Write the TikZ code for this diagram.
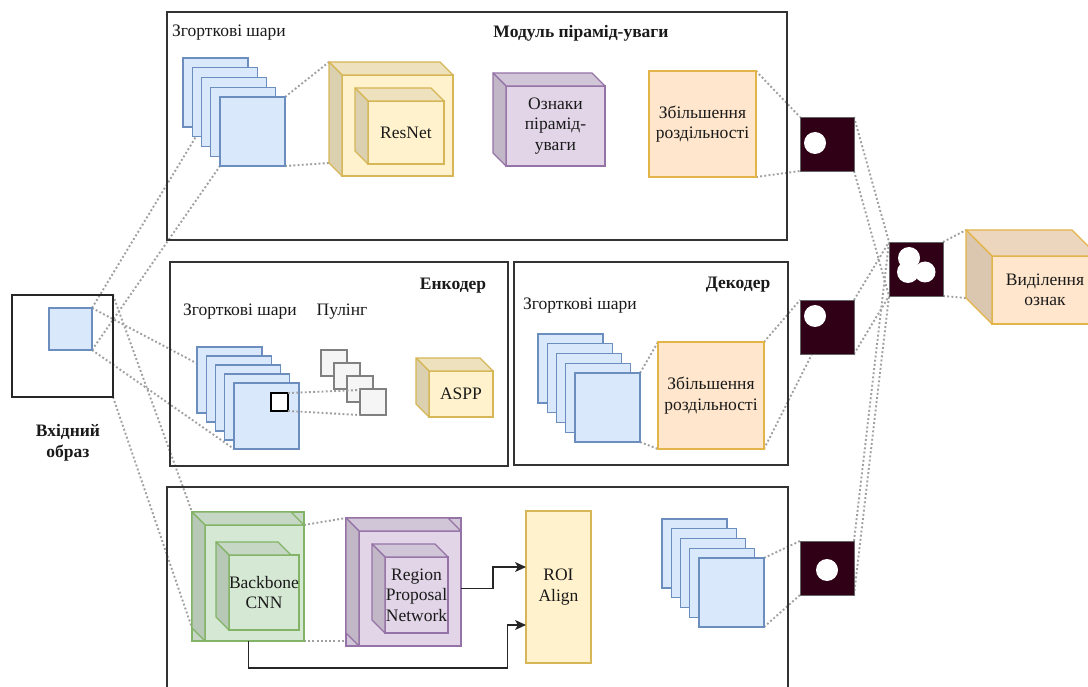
\documentclass[tikz,border=0pt]{standalone}
\usepackage{fontspec}
\setmainfont{Liberation Serif}
\usetikzlibrary{calc,arrows.meta}
\definecolor{bluef}{HTML}{DAE8FC}
\definecolor{blued}{HTML}{6C8EBF}
\definecolor{yelf}{HTML}{FFF2CC}
\definecolor{yeld}{HTML}{D6B656}
\definecolor{oraf}{HTML}{FFE6CC}
\definecolor{orad}{HTML}{E3B448}
\definecolor{purf}{HTML}{E1D5E7}
\definecolor{purd}{HTML}{9673A6}
\definecolor{grnf}{HTML}{D5E8D4}
\definecolor{grnd}{HTML}{82B366}
\definecolor{darkm}{HTML}{300016}
\definecolor{dotc}{HTML}{A0A0A0}
\definecolor{panelc}{HTML}{333333}
\definecolor{txt}{HTML}{1A1A1A}
\definecolor{poolf}{HTML}{F5F5F5}
\newcommand{\fs}{\fontsize{17.5}{20.5}\selectfont}
\pgfdeclarelayer{back}
\pgfdeclarelayer{lines}
\pgfsetlayers{back,lines,main}
\newcommand{\mkcube}[9]{%
  \node[draw=#8, fill=#7, line width=1.3pt, anchor=north west, inner sep=0pt, outer sep=0pt,
        minimum width={#4pt-#2pt-#6pt}, minimum height={#5pt-#3pt-#6pt}, align=center,
        text=txt, font=\fs] (#1) at (#2+#6,#3+#6) {#9};
  \draw[draw=#8, fill=#7!93!black, line width=1.3pt, line join=round]
     (#2,#3) -- (#4-#6,#3) -- (#4,#3+#6) -- (#2+#6,#3+#6) -- cycle;
  \draw[draw=#8, fill=#7!86!black, line width=1.3pt, line join=round]
     (#2,#3) -- (#2+#6,#3+#6) -- (#2+#6,#5) -- (#2,#5-#6) -- cycle;
  \coordinate (#1-btl) at (#2,#3);
  \coordinate (#1-bbl) at (#2,#5-#6);
}
\tikzset{
  sqbox/.style={draw=blued, fill=bluef, line width=1.2pt, anchor=north west,
    inner sep=0pt, outer sep=0pt, minimum width=65pt, minimum height=69pt},
  poolbox/.style={draw=black!50, fill=poolf, line width=1.2pt, anchor=north west,
    inner sep=0pt, outer sep=0pt, minimum width=26pt, minimum height=26pt},
  blk/.style={draw=black!60, fill=darkm, line width=0.8pt, anchor=north west,
    inner sep=0pt, outer sep=0pt, minimum width=54pt, minimum height=54pt},
  dot/.style={circle, fill=white, inner sep=0pt, outer sep=0pt},
  dotl/.style={draw=dotc, line width=1.9pt, dash pattern=on 1.9pt off 2.3pt},
  panelbox/.style={draw=panelc, line width=1.4pt, anchor=north west, inner sep=0pt, outer sep=0pt},
  lbl/.style={text=txt, inner sep=0pt, font=\fs},
  blbl/.style={text=txt, inner sep=0pt, font=\fs\bfseries},
  flatbox/.style={line width=1.3pt, anchor=north west, inner sep=0pt, outer sep=0pt,
    align=center, text=txt, font=\fs},
  arr/.style={-{Stealth[length=11pt,width=10pt,inset=3pt]}, line width=1.4pt, draw=black!85},
}
\begin{document}
\begin{tikzpicture}[x=1pt,y=-1pt]
\begin{pgfonlayer}{back}
\fill[white] (0,0) rectangle (1088,687);
\end{pgfonlayer}
\useasboundingbox (0,0) rectangle (1088,687);

% panels
\node[panelbox, minimum width=620pt, minimum height=228pt] (ptop) at (167,12) {};
\node[panelbox, minimum width=338pt, minimum height=204pt] (penc) at (170,262) {};
\node[panelbox, minimum width=274pt, minimum height=203pt] (pdec) at (514,262) {};
\node[panelbox, minimum width=621pt, minimum height=230pt] (pbot) at (167,487) {};

% input
\node[draw=black!85, line width=1.4pt, anchor=north west, inner sep=0pt, outer sep=0pt,
      minimum width=101pt, minimum height=102pt] (inbox) at (12,295) {};
\node[sqbox, minimum width=43pt, minimum height=42pt] (inblue) at (49,308) {};
\node[blbl, align=center] (tin) at (68,443) {Вхідний\\образ};

% top panel
\node[lbl, anchor=west] (tconv1) at (172,33) {Згорткові шари};
\node[blbl] (ttop) at (581,33) {Модуль пірамід-уваги};
\foreach \i in {1,...,5}
  \node[sqbox] (ts\i) at ({183+9.25*(\i-1)},{58+9.75*(\i-1)}) {};
\mkcube{resnet}{329}{62}{453}{176}{13}{yelf}{yeld}{}
\mkcube{resin}{355}{88}{444}{164}{13}{yelf}{yeld}{ResNet}
\mkcube{pyr}{493}{73}{605}{166}{13}{purf}{purd}{Ознаки\\пірамід-\\уваги}
\node[flatbox, draw=orad, fill=oraf, minimum width=107pt, minimum height=106pt] (topup) at (649,71)
  {Збільшення\\роздільності};

% encoder
\node[blbl] (tenc) at (453,286) {Енкодер};
\node[lbl] (tconv2) at (240,312) {Згорткові шари};
\node[lbl] (tpool) at (342,312) {Пулінг};
\foreach \i in {1,...,5}
  \node[sqbox, minimum height=66pt] (es\i) at ({197+9.25*(\i-1)},{347+9*(\i-1)}) {};
\node[draw=black, fill=white, line width=1.4pt, anchor=north west, inner sep=0pt, outer sep=0pt,
      minimum width=17pt, minimum height=18pt] (esmall) at (271,393) {};
\foreach \i in {1,...,4}
  \node[poolbox] (pq\i) at ({321+13*(\i-1)},{350+13*(\i-1)}) {};
\mkcube{aspp}{416}{358}{493}{417}{13}{yelf}{yeld}{ASPP}

% decoder
\node[blbl] (tdec) at (738,285) {Декодер};
\node[lbl] (tconv3) at (580,306) {Згорткові шари};
\foreach \i in {1,...,5}
  \node[sqbox] (ds\i) at ({538+9.25*(\i-1)},{334+9.75*(\i-1)}) {};
\node[flatbox, draw=orad, fill=oraf, minimum width=106pt, minimum height=107pt] (decup) at (658,342)
  {Збільшення\\роздільності};

% bottom panel
\draw[draw=grnd, fill=grnf!93!black, line width=1.3pt] (192,512) rectangle (304,641);
\mkcube{bb}{192}{512}{304}{641}{13}{grnf}{grnd}{}
\mkcube{bbin}{216}{542}{291}{630}{13}{grnf}{grnd}{Backbone\\CNN}
\draw[draw=purd, fill=purf!93!black, line width=1.3pt] (346,518) rectangle (461,646);
\mkcube{rpn}{346}{518}{461}{646}{13}{purf}{purd}{}
\mkcube{rpnin}{372}{544}{448}{633}{13}{purf}{purd}{Region\\Proposal\\Network}
\node[flatbox, draw=yeld, fill=yelf, minimum width=65pt, minimum height=152pt] (roi) at (526,511)
  {ROI\\Align};
\foreach \i in {1,...,5}
  \node[sqbox] (bs\i) at ({662+9.25*(\i-1)},{519+9.75*(\i-1)}) {};

\draw[arr] (rpn.east) -- ++(32,0) |- ([yshift=20pt]roi.west);
\draw[arr] ([xshift=-6pt]bb.south) -- ++(0,27) -- ++(259,0) |- ([yshift=-38pt]roi.west);

% masks
\node[blk] (sq1) at (800,117) {};
\node[dot, minimum size=22pt] (c1) at (815,143) {};
\node[blk] (sq2) at (800,300) {};
\node[dot, minimum size=22pt] (c2) at (815,316) {};
\node[blk] (sq3) at (800,541) {};
\node[dot, minimum size=22pt] (c3) at (827,570) {};
\node[blk] (comb) at (889,242) {};
\node[dot, minimum size=22pt] (cb1) at (909,258) {};
\node[dot, minimum size=22pt] (cb2) at (908,272) {};
\node[dot, minimum size=21pt] (cb3) at (925,272) {};
\mkcube{sel}{966}{230}{1098}{324}{26}{oraf}{orad}{Виділення\\ознак}

% dotted connectors behind shapes
\begin{pgfonlayer}{lines}
\draw[dotl] (inblue.north east) -- (ts5.north west);
\draw[dotl] (inblue.south east) -- (ts5.south west);
\draw[dotl] (inblue.north east) -- (es5.north west);
\draw[dotl] (inblue.south east) -- (es5.south west);
\draw[dotl] (inbox.north east) -- (bb-btl);
\draw[dotl] (inbox.south east) -- (bb-bbl);
\draw[dotl] (ts5.north east) -- (resnet-btl);
\draw[dotl] (ts5.south east) -- (resnet-bbl);
\draw[dotl] (topup.north east) -- (sq1.north west);
\draw[dotl] (topup.south east) -- (sq1.south west);
\draw[dotl] (sq1.north east) -- (comb.north west);
\draw[dotl] (sq1.south east) -- (comb.south west);
\draw[dotl] (sq2.north east) -- (comb.north west);
\draw[dotl] (sq2.south east) -- (comb.south west);
\draw[dotl] (sq3.north east) -- (comb.north west);
\draw[dotl] (sq3.south east) -- (comb.south west);
\draw[dotl] (comb.north east) -- (sel-btl);
\draw[dotl] (comb.south east) -- (sel-bbl);
\draw[dotl] (ds5.north east) -- (decup.north west);
\draw[dotl] (ds5.south east) -- (decup.south west);
\draw[dotl] (decup.north east) -- (sq2.north west);
\draw[dotl] (decup.south east) -- ([xshift=12pt]sq2.south west);
\draw[dotl] (bs5.north east) -- (sq3.north west);
\draw[dotl] (bs5.south east) -- (sq3.south west);
\draw[dotl] (bb.north east) -- (rpn-btl);
\draw[dotl] (bb.south east) -- (bb.south east -| rpn-btl);
\end{pgfonlayer}
\draw[dotl] (esmall.north east) -- ([yshift=-1pt]pq4.north west);
\draw[dotl] (esmall.south east) -- (pq4.south west);
\end{tikzpicture}
\end{document}
